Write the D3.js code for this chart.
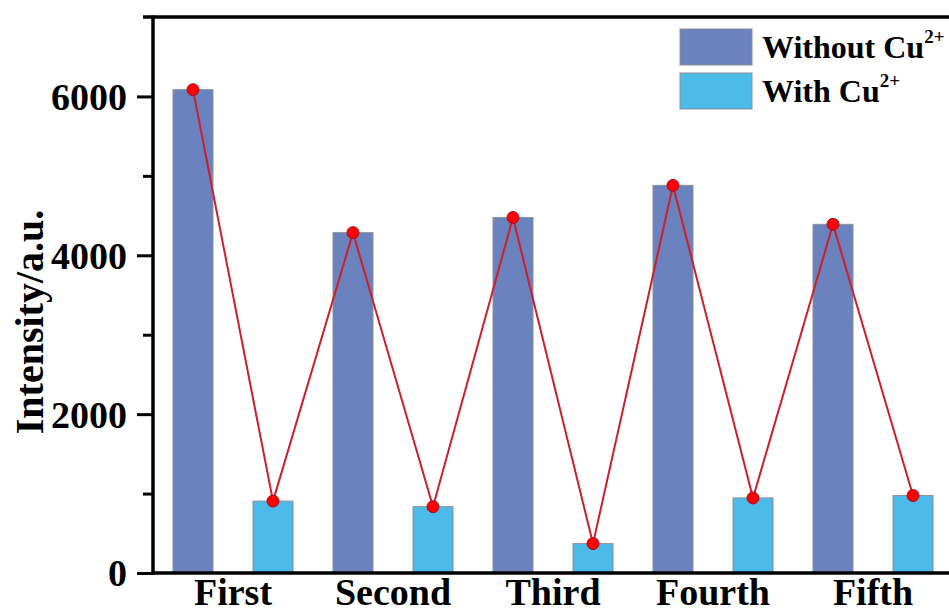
<!DOCTYPE html>
<html>
<head>
<meta charset="utf-8">
<script src="https://cdn.jsdelivr.net/npm/d3@7"></script>
<style>
  html, body { margin: 0; padding: 0; background: #fff; }
  svg { display: block; }
  text { font-family: "Liberation Serif", "Times New Roman", serif; font-weight: bold; fill: #000; }
</style>
</head>
<body>
<svg id="chart" width="949" height="614"></svg>
<script>
// Fluorescence intensity across five cycles, without and with Cu2+
const categories = ["First", "Second", "Third", "Fourth", "Fifth"];
const seriesNames = ["Without", "With"];
const withoutCu = [6085, 4285, 4475, 4880, 4390];
const withCu = [905, 835, 370, 945, 975];
const yMajorTicks = [0, 2000, 4000, 6000];
const yMinorTicks = [1000, 3000, 5000];

const colors = { Without: "#6a82bd", With: "#4dbbea" };

const svg = d3.select("#chart");
const W = 949, H = 614;
const plotLeft = 153, plotBottom = 573, plotTop = 17, plotRight = 953;

const x = d3.scaleBand().domain(categories).range([plotLeft, plotRight]).paddingInner(0).paddingOuter(0);
const xs = d3.scaleBand().domain(seriesNames).range([0, x.bandwidth()]).paddingInner(0.5).paddingOuter(0.25);
const y = d3.scaleLinear().domain([0, 7000]).range([plotBottom, plotTop]);

const rows = categories.map((c, i) => ({ cat: c, Without: withoutCu[i], With: withCu[i] }));

// bars
const g = svg.append("g");
rows.forEach(r => {
  seriesNames.forEach(s => {
    g.append("rect")
      .attr("x", x(r.cat) + xs(s))
      .attr("y", y(r[s]))
      .attr("width", xs.bandwidth())
      .attr("height", y(0) - y(r[s]))
      .attr("fill", colors[s])
      .attr("stroke", "#8c8f96")
      .attr("stroke-width", 1);
  });
});

// connecting line through every bar top, in order
const pts = [];
rows.forEach(r => seriesNames.forEach(s => pts.push([x(r.cat) + xs(s) + xs.bandwidth() / 2, y(r[s])])));
svg.append("path")
  .attr("d", d3.line()(pts))
  .attr("fill", "none")
  .attr("stroke", "#cc1f2e")
  .attr("stroke-width", 2);
svg.selectAll("circle.pt").data(pts).join("circle")
  .attr("class", "pt")
  .attr("cx", d => d[0]).attr("cy", d => d[1]).attr("r", 6)
  .attr("fill", "#ff0000").attr("stroke", "#a0102a").attr("stroke-width", 1);

// y axis with major and minor ticks
const yAxis = d3.axisLeft(y).tickValues(yMajorTicks).tickSize(16).tickPadding(10).tickFormat(d3.format("d"));
const ya = svg.append("g").attr("transform", `translate(${plotLeft},0)`).call(yAxis);
ya.select(".domain").remove();
ya.selectAll(".tick line").attr("stroke", "#000").attr("stroke-width", 3);
ya.selectAll(".tick text").style("font-size", "38px").attr("dy", "0.34em");
const ym = svg.append("g").attr("transform", `translate(${plotLeft},0)`)
  .call(d3.axisLeft(y).tickValues(yMinorTicks).tickSize(10).tickFormat(""));
ym.select(".domain").remove();
ym.selectAll(".tick line").attr("stroke", "#000").attr("stroke-width", 3);

// frame lines
svg.append("line").attr("x1", plotLeft).attr("x2", plotLeft).attr("y1", plotTop - 1.5).attr("y2", plotBottom + 1.5)
  .attr("stroke", "#000").attr("stroke-width", 3.5);
svg.append("line").attr("x1", plotLeft - 10).attr("x2", W).attr("y1", plotTop).attr("y2", plotTop)
  .attr("stroke", "#000").attr("stroke-width", 3.5);
svg.append("line").attr("x1", plotLeft - 1.5).attr("x2", W).attr("y1", plotBottom).attr("y2", plotBottom)
  .attr("stroke", "#000").attr("stroke-width", 3.5);

// x category labels
const xa = svg.append("g").attr("transform", `translate(0,${plotBottom})`)
  .call(d3.axisBottom(x).tickSize(0).tickPadding(0));
xa.select(".domain").remove();
xa.selectAll(".tick text").style("font-size", "38px").attr("dy", null).attr("y", 32);

// y axis title
svg.append("text")
  .attr("transform", `translate(43,322) rotate(-90)`)
  .attr("text-anchor", "middle")
  .style("font-size", "40px")
  .text("Intensity/a.u.");

// legend
const legend = svg.append("g");
const legendLabels = ["Without Cu", "With Cu"];
seriesNames.forEach((s, i) => {
  const ly = 29 + i * 44;
  legend.append("rect").attr("x", 680).attr("y", ly).attr("width", 72).attr("height", 36)
    .attr("fill", colors[s]).attr("stroke", "#8c8f96").attr("stroke-width", 1);
  const t = legend.append("text").attr("x", 762).attr("y", ly + 29).style("font-size", "32px");
  t.append("tspan").text(legendLabels[i]);
  t.append("tspan").attr("dy", -15).style("font-size", "19px").text("2+");
});
</script>
</body>
</html>
